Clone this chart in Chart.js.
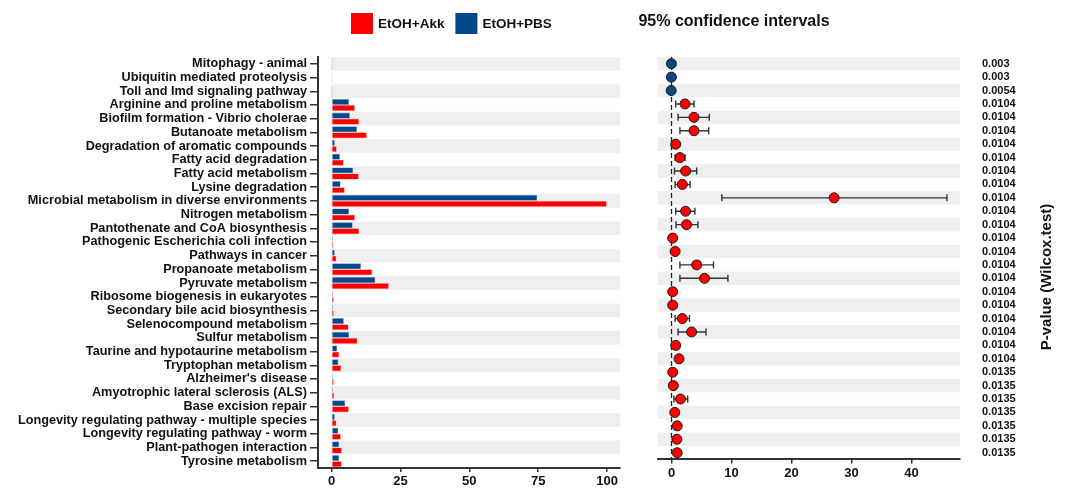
<!DOCTYPE html>
<html>
<head>
<meta charset="utf-8">
<script src="https://cdn.jsdelivr.net/npm/chart.js@4.4.1/dist/chart.umd.min.js"></script>
<style>
  html, body { margin: 0; padding: 0; background: #fff; }
  #wrap { position: relative; width: 1067px; height: 488px; }
  #boxA { position: absolute; left: 0; top: 0; width: 625px; height: 488px; }
  #boxB { position: absolute; left: 630px; top: 0; width: 437px; height: 488px; }
</style>
</head>
<body>
<div id="wrap">
  <div id="boxA"><canvas id="barChart"></canvas></div>
  <div id="boxB"><canvas id="ciChart"></canvas></div>
</div>
<script>
// pathways (top to bottom)
var categories = [
  "Mitophagy - animal",
  "Ubiquitin mediated proteolysis",
  "Toll and Imd signaling pathway",
  "Arginine and proline metabolism",
  "Biofilm formation - Vibrio cholerae",
  "Butanoate metabolism",
  "Degradation of aromatic compounds",
  "Fatty acid degradation",
  "Fatty acid metabolism",
  "Lysine degradation",
  "Microbial metabolism in diverse environments",
  "Nitrogen metabolism",
  "Pantothenate and CoA biosynthesis",
  "Pathogenic Escherichia coli infection",
  "Pathways in cancer",
  "Propanoate metabolism",
  "Pyruvate metabolism",
  "Ribosome biogenesis in eukaryotes",
  "Secondary bile acid biosynthesis",
  "Selenocompound metabolism",
  "Sulfur metabolism",
  "Taurine and hypotaurine metabolism",
  "Tryptophan metabolism",
  "Alzheimer's disease",
  "Amyotrophic lateral sclerosis (ALS)",
  "Base excision repair",
  "Longevity regulating pathway - multiple species",
  "Longevity regulating pathway - worm",
  "Plant-pathogen interaction",
  "Tyrosine metabolism"
];

// mean proportions (bars)
var pbsValues = [0.1, 0.1, 0.1, 6.4, 6.7, 9.3, 1.2, 3.1, 7.9, 3.3, 74.7, 6.4, 7.7, 0.5, 1.2,
                 10.7, 15.9, 0.5, 0.5, 4.5, 6.4, 2.1, 2.5, 0.5, 0.5, 5.0, 1.2, 2.5, 2.8, 2.8];
var akkValues = [0.03, 0.03, 0.03, 8.5, 10.0, 12.8, 1.9, 4.4, 9.9, 4.8, 99.9, 8.5, 10.0, 0.7, 1.8,
                 14.8, 20.8, 0.85, 0.85, 6.2, 9.4, 2.8, 3.5, 0.85, 1.0, 6.3, 1.8, 3.4, 3.75, 3.75];

// difference in mean proportions with 95% CI
var estimates = [-0.02, -0.02, -0.05, 2.25, 3.75, 3.75, 0.7, 1.4, 2.35, 1.8, 27.1, 2.35, 2.5, 0.2, 0.6,
                 4.2, 5.5, 0.2, 0.2, 1.8, 3.35, 0.7, 1.25, 0.2, 0.3, 1.5, 0.55, 0.95, 0.9, 0.95];
var ciLow = [-0.1, -0.1, -0.15, 0.7, 1.1, 1.4, 0.4, 0.6, 0.5, 0.6, 8.4, 0.7, 0.75, 0.05, 0.3,
             1.4, 1.4, 0.05, 0.05, 0.6, 1.1, 0.4, 0.8, 0.05, 0.1, 0.4, 0.3, 0.5, 0.5, 0.5];
var ciHigh = [0.05, 0.05, 0.0, 3.75, 6.3, 6.2, 1.0, 2.25, 4.2, 3.1, 45.9, 3.9, 4.4, 0.35, 0.9,
              7.0, 9.4, 0.35, 0.35, 3.0, 5.75, 1.0, 1.7, 0.35, 0.5, 2.7, 0.8, 1.4, 1.3, 1.4];

var pValues = ["0.003", "0.003", "0.0054",
  "0.0104", "0.0104", "0.0104", "0.0104", "0.0104", "0.0104", "0.0104", "0.0104", "0.0104", "0.0104",
  "0.0104", "0.0104", "0.0104", "0.0104", "0.0104", "0.0104", "0.0104", "0.0104", "0.0104", "0.0104",
  "0.0135", "0.0135", "0.0135", "0.0135", "0.0135", "0.0135", "0.0135"];

var barTicks = [0, 25, 50, 75, 100];
var ciTicks = [0, 10, 20, 30, 40];

var RED = "#ff0000";
var BLUE = "#06498b";
var INK = "#111111";
var BAND = "#efefef";

Chart.defaults.font.family = "'Liberation Sans', Arial, sans-serif";
Chart.defaults.color = INK;

// alternating grey row bands
var bandsPlugin = {
  id: "bands",
  beforeDatasetsDraw: function(chart, args, opts) {
    var ctx = chart.ctx, area = chart.chartArea;
    var y = chart.scales.y, x = chart.scales.x;
    var step = (area.bottom - area.top) / categories.length;
    var x0 = opts.fromZero ? x.getPixelForValue(0) - 0.5 : area.left;
    ctx.save();
    ctx.fillStyle = BAND;
    for (var i = 0; i < categories.length; i += 2) {
      var yc = y.getPixelForValue(i);
      ctx.fillRect(x0, yc - step / 2, area.right - x0, step);
    }
    ctx.restore();
  }
};

// zero line + error bars under the points
var ciPlugin = {
  id: "ciBars",
  beforeDatasetsDraw: function(chart) {
    var ctx = chart.ctx, area = chart.chartArea;
    var x = chart.scales.x, y = chart.scales.y;
    ctx.save();
    var z = x.getPixelForValue(0);
    ctx.strokeStyle = "#222";
    ctx.lineWidth = 1.3;
    ctx.setLineDash([5, 3]);
    ctx.beginPath();
    ctx.moveTo(z, area.top);
    ctx.lineTo(z, area.bottom);
    ctx.stroke();
    ctx.setLineDash([]);
    ctx.strokeStyle = "#333";
    ctx.lineWidth = 1.4;
    for (var i = 0; i < estimates.length; i++) {
      var yc = y.getPixelForValue(i);
      var xl = x.getPixelForValue(ciLow[i]);
      var xh = x.getPixelForValue(ciHigh[i]);
      ctx.beginPath();
      ctx.moveTo(xl, yc); ctx.lineTo(xh, yc);
      ctx.moveTo(xl, yc - 3.5); ctx.lineTo(xl, yc + 3.5);
      ctx.moveTo(xh, yc - 3.5); ctx.lineTo(xh, yc + 3.5);
      ctx.stroke();
    }
    ctx.restore();
  }
};

// legend drawn above the bar panel
var legendPlugin = {
  id: "topLegend",
  afterDraw: function(chart) {
    var ctx = chart.ctx;
    var items = chart.data.datasets.slice().reverse();
    var x = 351;
    ctx.save();
    ctx.font = "bold 13.5px 'Liberation Sans', Arial, sans-serif";
    ctx.textBaseline = "middle";
    ctx.textAlign = "left";
    items.forEach(function(ds) {
      ctx.fillStyle = ds.backgroundColor;
      ctx.fillRect(x, 13, 22, 21);
      ctx.fillStyle = INK;
      ctx.fillText(ds.label, x + 27, 24);
      x += 27 + ctx.measureText(ds.label).width + 11;
    });
    ctx.restore();
  }
};

var ciTextPlugin = {
  id: "ciText",
  afterDraw: function(chart) {
    var ctx = chart.ctx;
    ctx.save();
    ctx.fillStyle = INK;
    ctx.textAlign = "center";
    ctx.textBaseline = "middle";
    ctx.font = "bold 16px 'Liberation Sans', Arial, sans-serif";
    ctx.fillText("95% confidence intervals", 104, 22);
    ctx.translate(417, 277);
    ctx.rotate(-Math.PI / 2);
    ctx.font = "bold 15px 'Liberation Sans', Arial, sans-serif";
    ctx.fillText("P-value (Wilcox.test)", 0, 0);
    ctx.restore();
  }
};

function fixedTicks(list) {
  return function(scale) {
    scale.ticks = list.map(function(v) { return { value: v }; });
  };
}

var xAxisStyle = {
  grid: { drawOnChartArea: false, tickLength: 4, color: "#333", lineWidth: 1.5 },
  border: { display: true, color: "#333", width: 2 },
  ticks: { color: INK, font: { size: 13, weight: "bold" }, padding: 2, maxRotation: 0 }
};

new Chart(document.getElementById("barChart"), {
  type: "bar",
  data: {
    labels: categories,
    datasets: [
      { label: "EtOH+PBS", data: pbsValues, backgroundColor: BLUE, borderColor: "#6c9fd0", borderWidth: 0.6 },
      { label: "EtOH+Akk", data: akkValues, backgroundColor: RED, borderColor: "#ff8a8a", borderWidth: 0.6 }
    ]
  },
  options: {
    indexAxis: "y",
    responsive: true,
    maintainAspectRatio: false,
    animation: false,
    layout: { padding: { top: 57, right: 5, left: 0, bottom: 0 } },
    datasets: { bar: { categoryPercentage: 0.88, barPercentage: 1.0 } },
    plugins: { legend: { display: false }, tooltip: { enabled: false }, bands: { fromZero: true } },
    scales: {
      x: Object.assign({
        type: "linear", min: -4.9, max: 104.7,
        afterBuildTicks: fixedTicks(barTicks),
        afterFit: function(s) { s.height = 20; }
      }, xAxisStyle),
      y: {
        type: "category",
        offset: true,
        grid: { offset: false, drawOnChartArea: false, tickLength: 8, color: "#333", lineWidth: 1.5 },
        border: { display: true, color: "#333", width: 2 },
        ticks: { color: INK, font: { size: 12.7, weight: "bold" }, padding: 3, autoSkip: false },
        afterFit: function(s) { s.width = 318; }
      }
    }
  },
  plugins: [bandsPlugin, legendPlugin]
});

new Chart(document.getElementById("ciChart"), {
  type: "scatter",
  data: {
    labels: categories,
    datasets: [{
      label: "difference",
      data: estimates.map(function(v, i) { return { x: v, y: categories[i] }; }),
      backgroundColor: estimates.map(function(v) { return v < 0 ? BLUE : RED; }),
      borderColor: "#1a1a1a",
      borderWidth: 1,
      pointRadius: 5,
      pointHoverRadius: 5
    }]
  },
  options: {
    responsive: true,
    maintainAspectRatio: false,
    animation: false,
    layout: { padding: { top: 57, left: 28, right: 0, bottom: 0 } },
    plugins: { legend: { display: false }, tooltip: { enabled: false }, bands: { fromZero: false } },
    scales: {
      x: Object.assign({
        type: "linear", min: -2.25, max: 48.08,
        afterBuildTicks: fixedTicks(ciTicks),
        afterFit: function(s) { s.height = 20; }
      }, xAxisStyle),
      y: {
        type: "category",
        position: "right",
        offset: true,
        grid: { display: false, drawTicks: false },
        border: { display: false },
        ticks: {
          color: INK, font: { size: 11, weight: "bold" }, padding: 22, autoSkip: false,
          callback: function(v, i) { return pValues[i]; }
        },
        afterFit: function(s) { s.width = 107; }
      }
    }
  },
  plugins: [bandsPlugin, ciPlugin, ciTextPlugin]
});
</script>
</body>
</html>
